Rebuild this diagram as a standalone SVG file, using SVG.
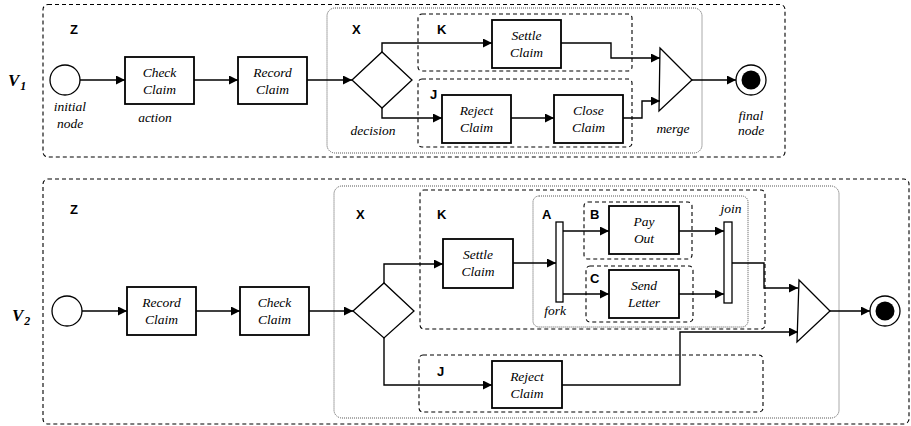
<svg xmlns="http://www.w3.org/2000/svg" width="911" height="426" viewBox="0 0 911 426">
  <defs>
    <marker id="arrow" viewBox="0 0 10 10" refX="10" refY="5" markerWidth="9" markerHeight="9" markerUnits="userSpaceOnUse" orient="auto">
      <path d="M0,0 L10,5 L0,10 z" fill="#000"/>
    </marker>
    <style>
      .region { fill: none; stroke: #000; stroke-width: 1.1; stroke-dasharray: 4 3; }
      .scope { fill: none; stroke: #555; stroke-width: 1; stroke-dasharray: 1 1; }
      .box { fill: #fff; stroke: #000; stroke-width: 1.8; }
      .shape { fill: #fff; stroke: #000; stroke-width: 1.3; }
      .bar { fill: #fff; stroke: #000; stroke-width: 1.3; }
      .edge { fill: none; stroke: #000; stroke-width: 1.4; }
      .act { font-family: "Liberation Serif", "Times New Roman", serif; font-style: italic; font-size: 13.5px; text-anchor: middle; fill: #000; }
      .note { font-family: "Liberation Serif", "Times New Roman", serif; font-style: italic; font-size: 13.5px; text-anchor: middle; fill: #000; }
      .tag { font-family: "Liberation Sans", Arial, sans-serif; font-weight: bold; font-size: 13px; fill: #000; }
      .ver { font-family: "Liberation Serif", "Times New Roman", serif; font-weight: bold; font-style: italic; font-size: 17px; fill: #000; }
      .sub { font-size: 12px; }
    </style>
  </defs>

  <!-- ===== Version 1 ===== -->
  <g id="v1-regions">
    <rect class="region" x="43" y="4.5" width="742" height="152.5" rx="5"/>
    <rect class="scope" x="327" y="8" width="375" height="145" rx="8"/>
    <rect class="region" x="418" y="14" width="214" height="57" rx="4"/>
    <rect class="region" x="418" y="79" width="214" height="68" rx="4"/>
    <text class="ver" x="8" y="86">V<tspan class="sub" dx="1" dy="4">1</tspan></text>
    <text class="tag" x="70" y="34">Z</text>
    <text class="tag" x="352" y="34">X</text>
    <text class="tag" x="437" y="34">K</text>
    <text class="tag" x="430" y="99">J</text>
  </g>

  <g id="v1-initial">
    <circle class="shape" cx="65" cy="80" r="15"/>
    <text class="note" x="70" y="111">initial</text>
    <text class="note" x="70" y="128">node</text>
  </g>
  <g id="v1-check">
    <rect class="box" x="125" y="57" width="69" height="47"/>
    <text class="act" x="159.5" y="77">Check</text>
    <text class="act" x="159.5" y="94">Claim</text>
    <text class="note" x="155" y="122">action</text>
  </g>
  <g id="v1-record">
    <rect class="box" x="238" y="57" width="69" height="47"/>
    <text class="act" x="272.5" y="77">Record</text>
    <text class="act" x="272.5" y="94">Claim</text>
  </g>
  <g id="v1-decision">
    <path class="shape" d="M352,80 L382,52 L412,80 L382,108 z"/>
    <text class="note" x="373" y="135">decision</text>
  </g>
  <g id="v1-settle">
    <rect class="box" x="492" y="20" width="69" height="48"/>
    <text class="act" x="526.5" y="40">Settle</text>
    <text class="act" x="526.5" y="57">Claim</text>
  </g>
  <g id="v1-reject">
    <rect class="box" x="442" y="95" width="69" height="48"/>
    <text class="act" x="476.5" y="115">Reject</text>
    <text class="act" x="476.5" y="132">Claim</text>
  </g>
  <g id="v1-close">
    <rect class="box" x="554" y="95" width="69" height="48"/>
    <text class="act" x="588.5" y="115">Close</text>
    <text class="act" x="588.5" y="132">Claim</text>
  </g>
  <g id="v1-merge">
    <path class="shape" d="M660,48 L692,80 L659,111 z"/>
    <text class="note" x="673" y="133">merge</text>
  </g>
  <g id="v1-final">
    <circle class="shape" cx="751" cy="80" r="15" stroke-width="1.8"/>
    <circle cx="751" cy="80" r="9.5" fill="#000"/>
    <text class="note" x="751" y="120">final</text>
    <text class="note" x="751" y="135">node</text>
  </g>

  <g id="v1-connectors">
    <path class="edge" d="M80,80 H125" marker-end="url(#arrow)"/>
    <path class="edge" d="M194,80 H238" marker-end="url(#arrow)"/>
    <path class="edge" d="M307,80 H352" marker-end="url(#arrow)"/>
    <path class="edge" d="M382,52 V43 H492" marker-end="url(#arrow)"/>
    <path class="edge" d="M382,108 V118 H442" marker-end="url(#arrow)"/>
    <path class="edge" d="M511,118 H554" marker-end="url(#arrow)"/>
    <path class="edge" d="M561,43 H611 V58 H660" marker-end="url(#arrow)"/>
    <path class="edge" d="M623,118 H642 V101 H660" marker-end="url(#arrow)"/>
    <path class="edge" d="M692,80 H736" marker-end="url(#arrow)"/>
  </g>

  <!-- ===== Version 2 ===== -->
  <g id="v2-regions">
    <rect class="region" x="43" y="179" width="866" height="245" rx="5"/>
    <rect class="scope" x="334" y="186" width="505" height="232" rx="8"/>
    <rect class="region" x="420" y="190" width="345" height="139" rx="4"/>
    <rect class="scope" x="533" y="196" width="215" height="131" rx="6"/>
    <rect class="region" x="584" y="202" width="108" height="57" rx="4"/>
    <rect class="region" x="586" y="266" width="107" height="56" rx="4"/>
    <rect class="region" x="419" y="355" width="344" height="57" rx="4"/>
    <text class="ver" x="12" y="321">V<tspan class="sub" dx="1" dy="4">2</tspan></text>
    <text class="tag" x="70" y="214">Z</text>
    <text class="tag" x="356" y="219">X</text>
    <text class="tag" x="437" y="219">K</text>
    <text class="tag" x="542" y="219">A</text>
    <text class="tag" x="590" y="219">B</text>
    <text class="tag" x="590" y="283">C</text>
    <text class="tag" x="437" y="376">J</text>
  </g>

  <g id="v2-initial">
    <circle class="shape" cx="67" cy="311" r="15"/>
  </g>
  <g id="v2-record">
    <rect class="box" x="127" y="287" width="69" height="48"/>
    <text class="act" x="161.5" y="307">Record</text>
    <text class="act" x="161.5" y="324">Claim</text>
  </g>
  <g id="v2-check">
    <rect class="box" x="240" y="287" width="69" height="48"/>
    <text class="act" x="274.5" y="307">Check</text>
    <text class="act" x="274.5" y="324">Claim</text>
  </g>
  <g id="v2-decision">
    <path class="shape" d="M353,311 L384,283 L414,311 L384,338 z"/>
  </g>
  <g id="v2-settle">
    <rect class="box" x="443" y="239" width="70" height="49"/>
    <text class="act" x="478" y="259">Settle</text>
    <text class="act" x="478" y="276">Claim</text>
  </g>
  <g id="v2-fork">
    <rect class="bar" x="556" y="222" width="7" height="80"/>
    <text class="note" x="555" y="315">fork</text>
  </g>
  <g id="v2-payout">
    <rect class="box" x="609" y="206" width="70" height="48"/>
    <text class="act" x="644" y="226">Pay</text>
    <text class="act" x="644" y="243">Out</text>
  </g>
  <g id="v2-letter">
    <rect class="box" x="609" y="270" width="70" height="48"/>
    <text class="act" x="644" y="290">Send</text>
    <text class="act" x="644" y="307">Letter</text>
  </g>
  <g id="v2-join">
    <rect class="bar" x="724" y="222" width="8" height="81"/>
    <text class="note" x="731" y="213">join</text>
  </g>
  <g id="v2-reject">
    <rect class="box" x="492" y="361" width="70" height="47"/>
    <text class="act" x="527" y="381">Reject</text>
    <text class="act" x="527" y="398">Claim</text>
  </g>
  <g id="v2-merge">
    <path class="shape" d="M799,280 L830,311 L797,342 z"/>
  </g>
  <g id="v2-final">
    <circle class="shape" cx="885" cy="311" r="15" stroke-width="1.8"/>
    <circle cx="885" cy="311" r="9.5" fill="#000"/>
  </g>

  <g id="v2-connectors">
    <path class="edge" d="M82,311 H127" marker-end="url(#arrow)"/>
    <path class="edge" d="M196,311 H240" marker-end="url(#arrow)"/>
    <path class="edge" d="M309,311 H353" marker-end="url(#arrow)"/>
    <path class="edge" d="M384,283 V264 H443" marker-end="url(#arrow)"/>
    <path class="edge" d="M513,263 H556" marker-end="url(#arrow)"/>
    <path class="edge" d="M563,231 H609" marker-end="url(#arrow)"/>
    <path class="edge" d="M563,294 H609" marker-end="url(#arrow)"/>
    <path class="edge" d="M679,231 H724" marker-end="url(#arrow)"/>
    <path class="edge" d="M679,294 H724" marker-end="url(#arrow)"/>
    <path class="edge" d="M732,263 H764 V288 H798" marker-end="url(#arrow)"/>
    <path class="edge" d="M384,338 V385 H492" marker-end="url(#arrow)"/>
    <path class="edge" d="M562,385 H680 V332 H798" marker-end="url(#arrow)"/>
    <path class="edge" d="M830,311 H870" marker-end="url(#arrow)"/>
  </g>
</svg>
